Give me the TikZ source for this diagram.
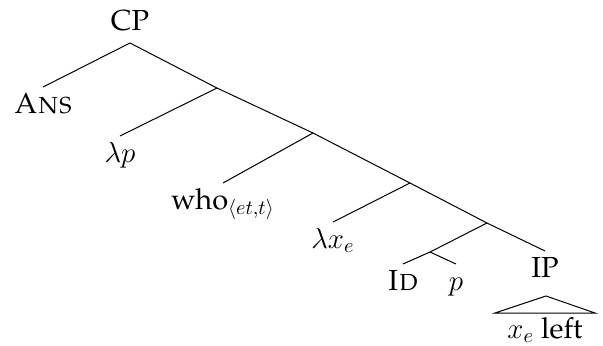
\RequirePackage{fix-cm}
\documentclass[tikz,border=0pt]{standalone}
\usepackage[T1]{fontenc}
\renewcommand{\rmdefault}{ppl}
\usepackage{amsmath}
\usepackage{tikz}

\begin{document}
\begin{tikzpicture}[x=0.5pt,y=-0.5pt,line width=0.5pt,
  font=\fontsize{14.5}{17}\selectfont,
  leaf/.style={anchor=north,inner sep=0pt,text height=13pt}]
  \useasboundingbox (0,0) rectangle (603,345);
  % Branch points
  \coordinate (j0) at (130,43);
  \coordinate (j1) at (217,88);
  \coordinate (j2) at (313,133);
  \coordinate (j3) at (410,183);
  \coordinate (j4) at (487,223);
  \coordinate (j5) at (430,252);
  % Labels
  \node[anchor=base,inner sep=0pt] (cp) at (130,30) {CP};
  \node[leaf] (ans)  at (43,87)   {\textsc{Ans}};
  \node[leaf] (lamp) at (120,136) {$\lambda p$};
  \node[leaf] (who)  at (223,183) {who$_{\langle et,t\rangle}$};
  \node[leaf] (lamx) at (333,222) {$\lambda x_e$};
  \node[leaf] (id)   at (403,264) {\textsc{Id}};
  \node[leaf] (pvar) at (456,264) {$p$};
  \node[leaf] (ip)   at (545,251) {IP};
  \node[anchor=base,inner sep=0pt] (xleft) at (545,338) {$x_e$ left};
  % Spine
  \draw (j0) -- (j1) -- (j2) -- (j3) -- (j4) -- (ip.north);
  % Left daughters
  \draw (j0) -- (ans.north);
  \draw (j1) -- (lamp.north);
  \draw (j2) -- (who.north);
  \draw (j3) -- (lamx.north);
  \draw (j4) -- (j5);
  \draw (j5) -- (id.north);
  \draw (j5) -- (pvar.north);
  % Roof over IP
  \coordinate (top) at (546,296);
  \coordinate (bl) at (495,313);
  \coordinate (br) at (595,313);
  \draw (top) -- (bl) -- (br) -- cycle;
\end{tikzpicture}
\end{document}
